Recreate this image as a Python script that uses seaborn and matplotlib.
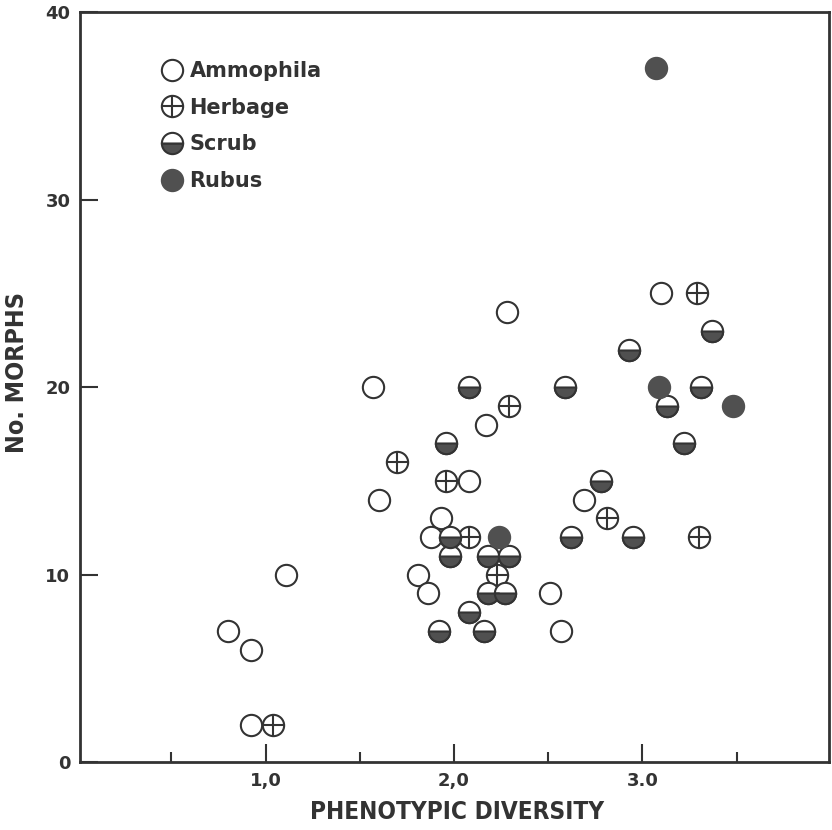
import matplotlib
matplotlib.use("Agg")
import matplotlib.pyplot as plt
from matplotlib.path import Path
from matplotlib.lines import Line2D
from matplotlib.legend_handler import HandlerTuple
import seaborn as sns
import pandas as pd

# phenotypic diversity (x) and number of morphs (y) per habitat
ammophila_x = [0.80, 0.92, 0.92, 1.11, 1.57, 1.60, 2.17, 2.28, 2.08, 1.93, 1.88, 1.81, 1.86, 2.51, 2.57, 2.69, 3.10]
ammophila_y = [7, 6, 2, 10, 20, 14, 18, 24, 15, 13, 12, 10, 9, 9, 7, 14, 25]

herbage_x = [1.04, 1.70, 1.96, 2.29, 2.08, 2.23, 2.81, 3.29, 3.30]
herbage_y = [2, 16, 15, 19, 12, 10, 13, 25, 12]

scrub_x = [2.08, 2.59, 1.96, 1.98, 1.98, 2.18, 2.29, 2.18, 2.27, 2.08,
           1.92, 2.16, 2.62, 2.95, 2.78, 2.93, 3.37, 3.31, 3.13, 3.22]
scrub_y = [20, 20, 17, 12, 11, 11, 11, 9, 9, 8,
           7, 7, 12, 12, 15, 22, 23, 20, 19, 17]

rubus_x = [2.24, 3.09, 3.48, 3.07]
rubus_y = [12, 20, 19, 37]

habitats = ["Ammophila", "Herbage", "Scrub", "Rubus"]
x_ticks = [1, 2, 3]
x_tick_labels = ["1,0", "2,0", "3.0"]
x_minor = [0.5, 1.5, 2.5, 3.5]
y_ticks = [0, 10, 20, 30, 40]

INK = "#333333"
FILL = "#505050"
MS = 235          # marker area, pt^2
LW = 1.5

frames = []
for name, xs, ys in zip(habitats, [ammophila_x, herbage_x, scrub_x, rubus_x],
                        [ammophila_y, herbage_y, scrub_y, rubus_y]):
    frames.append(pd.DataFrame({"diversity": xs, "morphs": ys, "habitat": name}))
df = pd.concat(frames, ignore_index=True)

sns.set_theme(style="ticks")
plt.rcParams["font.family"] = ["DejaVu Sans"]

fig = plt.figure(figsize=(8.32, 8.30), dpi=100)
ax = fig.add_axes([0.0962, 0.0819, 0.900, 0.9036])

half = Path.wedge(180, 360)   # lower half disc for the Scrub symbol


def layer(name, **kw):
    sub = df[df["habitat"] == name]
    sns.scatterplot(data=sub, x="diversity", y="morphs", ax=ax, legend=False,
                    s=MS, linewidth=LW, zorder=3, **kw)


layer("Ammophila", marker="o", color="white", edgecolor=INK)
layer("Herbage", marker="o", color="white", edgecolor=INK)
layer("Herbage", marker="+", color=INK)
layer("Scrub", marker="o", color="white", edgecolor=INK)
layer("Scrub", marker=half, color=FILL, edgecolor=INK)
layer("Rubus", marker="o", color=FILL, edgecolor=FILL)

ax.set_xlim(0.015, 3.99)
ax.set_ylim(0, 40)
ax.set_xticks(x_ticks)
ax.set_xticklabels(x_tick_labels)
ax.set_xticks(x_minor, minor=True)
ax.set_yticks(y_ticks)
ax.tick_params(axis="both", which="major", direction="in", length=13, width=1.5,
               color=INK, labelcolor=INK, labelsize=13)
ax.tick_params(axis="x", which="minor", direction="in", length=7.5, width=1.5, color=INK)
ax.tick_params(axis="x", which="major", pad=7)
ax.tick_params(axis="y", which="major", pad=7)
for lab in ax.get_xticklabels() + ax.get_yticklabels():
    lab.set_fontweight("bold")
for sp in ax.spines.values():
    sp.set_color(INK)
    sp.set_linewidth(2)

ax.set_xlabel("PHENOTYPIC DIVERSITY", fontweight="bold", fontstretch="condensed",
              fontsize=17.5, color=INK)
ax.xaxis.set_label_coords(0.503, -0.05)
ax.set_ylabel("No. MORPHS", fontweight="bold", fontstretch="condensed",
              fontsize=18, color=INK, va="center")
ax.yaxis.set_label_coords(-0.084, 0.519)

msz = MS ** 0.5
h_amm = Line2D([], [], ls="", marker="o", ms=msz, mfc="white", mec=INK, mew=LW)
h_herb = (Line2D([], [], ls="", marker="o", ms=msz, mfc="white", mec=INK, mew=LW),
          Line2D([], [], ls="", marker="+", ms=msz, mec=INK, mew=LW))
h_scrub = Line2D([], [], ls="", marker="o", ms=msz, fillstyle="bottom",
                 mfc=FILL, markerfacecoloralt="white", mec=INK, mew=LW)
h_rubus = Line2D([], [], ls="", marker="o", ms=msz, mfc=FILL, mec=FILL, mew=LW)

leg = ax.legend([h_amm, h_herb, h_scrub, h_rubus], habitats,
                loc="upper left", bbox_to_anchor=(0.0975, 0.946), frameon=False,
                handlelength=1.0, handletextpad=0.35, labelspacing=0.8,
                borderaxespad=0, handler_map={tuple: HandlerTuple(ndivide=1)},
                prop={"size": 15, "weight": "bold"})
for t in leg.get_texts():
    t.set_color(INK)

fig.savefig("out.png", dpi=100)
